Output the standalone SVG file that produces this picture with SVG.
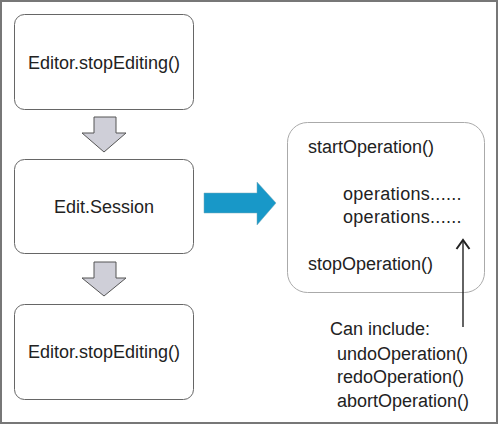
<svg xmlns="http://www.w3.org/2000/svg" width="500" height="425" viewBox="0 0 500 425">
<defs>
<style>
.box{fill:#fff;stroke:#666;stroke-width:1}
.t{font-family:"Liberation Sans",Arial,sans-serif;font-size:18px;fill:#222}
.c{text-anchor:middle}
.garrow{fill:#cfcfd8;stroke:#555;stroke-width:1}
</style>
<marker id="open" markerWidth="16" markerHeight="16" refX="12" refY="8" orient="auto" markerUnits="userSpaceOnUse" viewBox="0 0 16 16">
<path d="M3,1.5 L12,8 L3,14.5" fill="none" stroke="#222" stroke-width="2"/>
</marker>
</defs>
<rect x="1" y="1" width="496" height="422" fill="#fff" stroke="#777" stroke-width="2"/>
<g id="node-editor-stop-1">
<rect class="box" x="14.5" y="14.5" width="179" height="95" rx="10"/>
<text class="t c" x="104" y="69">Editor.stopEditing()</text>
</g>
<g id="node-edit-session">
<rect class="box" x="14.5" y="159.5" width="179" height="94" rx="10"/>
<text class="t c" x="104" y="213">Edit.Session</text>
</g>
<g id="node-editor-stop-2">
<rect class="box" x="14.5" y="304.5" width="179" height="95" rx="10"/>
<text class="t c" x="104" y="358">Editor.stopEditing()</text>
</g>
<g id="node-operations">
<rect x="287.5" y="122.5" width="197" height="170" rx="20" fill="#fff" stroke="#aaa" stroke-width="1"/>
<text class="t" x="308" y="153">startOperation()</text>
<text class="t" x="343" y="200" letter-spacing="0.3">operations......</text>
<text class="t" x="343" y="223" letter-spacing="0.3">operations......</text>
<text class="t" x="308" y="270">stopOperation()</text>
</g>
<g id="node-can-include">
<text class="t" x="330" y="335">Can include:</text>
<text class="t" x="337" y="360">undoOperation()</text>
<text class="t" x="337" y="383">redoOperation()</text>
<text class="t" x="337" y="407">abortOperation()</text>
</g>
<g id="connectors">
<path class="garrow" d="M94,117 L116,117 L116,133 L126,133 L104,152 L82,133 L94,133 Z"/>
<path class="garrow" d="M94,262 L116,262 L116,278 L126,278 L104,296 L82,278 L94,278 Z"/>
<path d="M204,193 L257,193 L257,182 L276,203 L257,225 L257,213 L204,213 Z" fill="#1898c8" stroke="#7ab" stroke-width="0.5"/>
<line x1="463" y1="327" x2="463" y2="240" stroke="#222" stroke-width="1.4" marker-end="url(#open)"/>
</g>
</svg>
